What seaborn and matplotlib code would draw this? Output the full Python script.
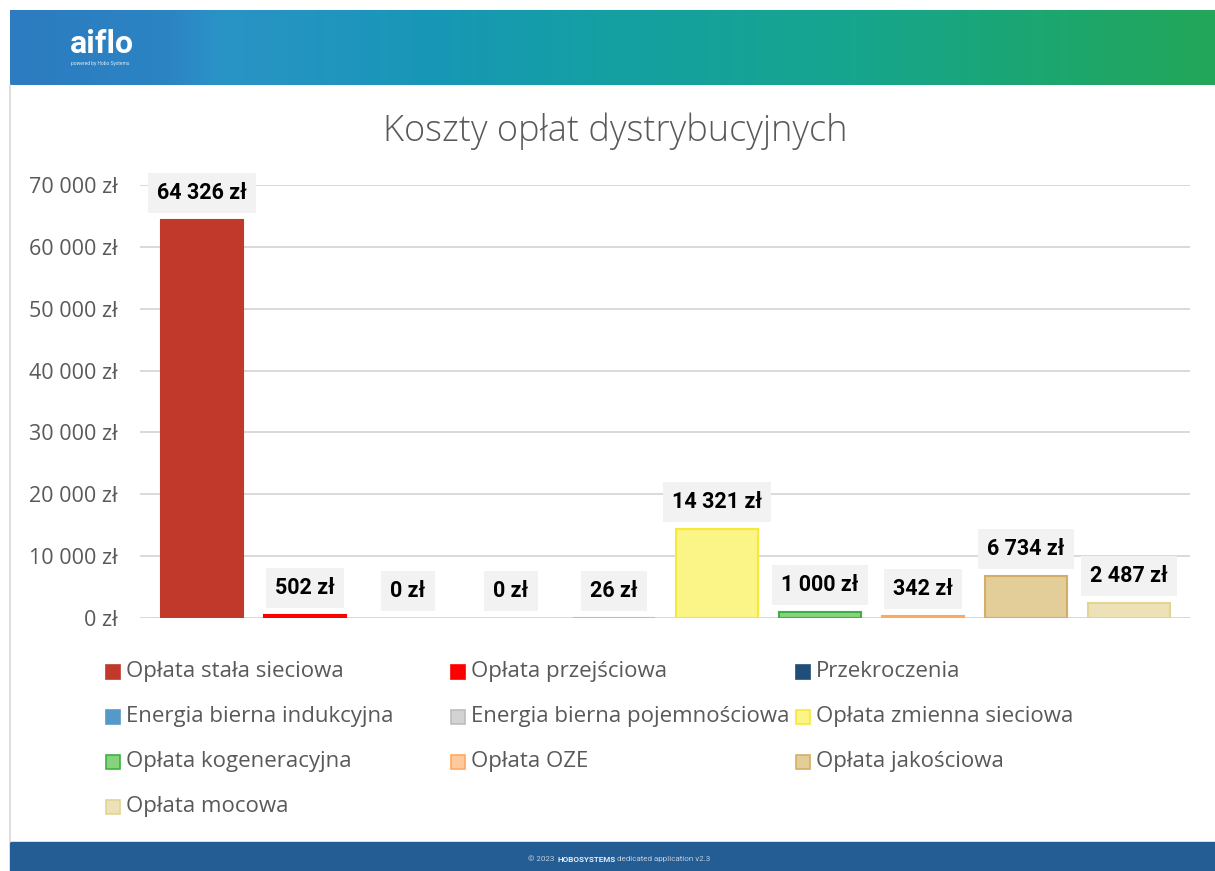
import numpy as np
import pandas as pd
import matplotlib
matplotlib.use('Agg')
import matplotlib.pyplot as plt
from matplotlib.colors import LinearSegmentedColormap
from matplotlib.patches import Rectangle
import seaborn as sns

sns.set_style('white')
plt.rcParams['font.family'] = ['Roboto', 'DejaVu Sans']

categories = ['Opłata stała sieciowa', 'Opłata przejściowa', 'Przekroczenia',
              'Energia bierna indukcyjna', 'Energia bierna pojemnościowa',
              'Opłata zmienna sieciowa', 'Opłata kogeneracyjna', 'Opłata OZE',
              'Opłata jakościowa', 'Opłata mocowa']
values = [64326, 502, 0, 0, 26, 14321, 1000, 342, 6734, 2487]
fill_colors = ['#c0392b', '#ff0000', '#1f4e79', '#5499c7', '#d3d3d3',
               '#fbf486', '#85d47c', '#ffca9b', '#e3cd98', '#ede2b7']
edge_colors = ['#c0392b', '#ff0000', '#1f4e79', '#5499c7', '#bdbdbd',
               '#f5e93a', '#3cb043', '#ffa860', '#d4ae66', '#e5d393']
yticks = [0, 10000, 20000, 30000, 40000, 50000, 60000, 70000]


def fmt_zl(v):
    return '{:,}'.format(int(v)).replace(',', ' ') + ' zł'


df = pd.DataFrame({'cat': categories, 'val': values})

W, H = 1215, 871
fig = plt.figure(figsize=(W / 100, H / 100), dpi=100)

# header band
hdr = fig.add_axes([10 / W, 1 - 85 / H, 1 - 10 / W, 75 / H])
hdr_cmap = LinearSegmentedColormap.from_list('hdr', [
    (0.0, '#2b7cc0'), (0.13, '#2c84c3'), (0.17, '#2a93c7'), (0.35, '#1897b6'),
    (0.5, '#14a0a2'), (0.7, '#16a58e'), (0.85, '#1ca672'), (1.0, '#23a65a')])
hdr.imshow(np.linspace(0, 1, 400)[None, :], aspect='auto', cmap=hdr_cmap,
           extent=[0, 1, 0, 1])
hdr.set_axis_off()
fig.text(70 / W, 1 - 44 / H, 'aiflo', color='white', fontsize=23,
         fontweight='bold', ha='left', va='center')
fig.text(71 / W, 1 - 63 / H, 'powered by Hobo Systems', color='#dcebf5',
         fontsize=3.5, ha='left', va='center')

# footer band
fig.patches.append(Rectangle((10 / W, 0), 1 - 10 / W, 29 / H,
                             transform=fig.transFigure, color='#235d94', zorder=0))
fig.text(528 / W, 12 / H, '© 2023', color='#c3d0e0', fontsize=5.8, va='center')
fig.text(557 / W, 12 / H, 'HOBOSYSTEMS', color='#e8eef5', fontsize=5.8,
         fontweight='bold', va='center')
fig.text(617 / W, 12 / H, 'dedicated application v2.3', color='#c3d0e0',
         fontsize=5.8, va='center')

# left card border
fig.lines.append(plt.Line2D([10.5 / W, 10.5 / W], [29 / H, 1 - 85 / H],
                            transform=fig.transFigure, color='#d9d9d9', lw=1.2))

# main chart
ax = fig.add_axes([140 / W, 1 - 618 / H, 1050 / W, 433 / H])
sns.barplot(data=df, x='cat', y='val', hue='cat', palette=dict(zip(categories, fill_colors)),
            width=0.8, saturation=1, legend=False, ax=ax, zorder=3)
for bar, ec, v in zip(ax.patches, edge_colors, values):
    bar.set_edgecolor(ec)
    bar.set_linewidth(1.5 if v > 0 else 0)

ax.set_xlim(-0.6, 9.59)
ax.set_ylim(0, 70000)
ax.set_yticks(yticks)
ax.set_yticklabels([fmt_zl(t) for t in yticks], fontsize=15.5, color='#595959',
                   family=['Open Sans', 'DejaVu Sans'])
ax.set_xticks([])
ax.set_xlabel('')
ax.set_ylabel('')
ax.tick_params(axis='y', length=0, pad=16)
ax.grid(axis='y', color='#d9d9d9', lw=1.4, zorder=0)
sns.despine(ax=ax, left=True, bottom=True)
ax.axhline(0, color='#d9d9d9', lw=2, zorder=2)

for i, v in enumerate(values):
    ax.annotate(fmt_zl(v), xy=(i, v), xytext=(0, 27), textcoords='offset pixels',
                ha='center', va='center', fontsize=15.5, fontweight='bold', color='black',
                annotation_clip=False, zorder=5,
                bbox=dict(boxstyle='square,pad=0.42', fc='#f2f2f2', ec='none'))

fig.text(615 / W, 1 - 131 / H, 'Koszty opłat dystrybucyjnych', fontsize=26,
         color='#595959', ha='center', va='center', fontweight='light',
         family=['Open Sans', 'DejaVu Sans'])

# legend laid out as in the reference, row by row in three columns
col_x = [106, 451, 796]
row_y = [672, 717, 762, 807]
for k, (name, fc, ec) in enumerate(zip(categories, fill_colors, edge_colors)):
    r, c = divmod(k, 3)
    x0, y0 = col_x[c], row_y[r]
    fig.patches.append(Rectangle((x0 / W, (H - y0 - 7) / H), 14 / W, 14 / H,
                                 transform=fig.transFigure, fc=fc, ec=ec, lw=1.2))
    fig.text((x0 + 20) / W, 1 - (y0 - 1) / H, name, fontsize=16, color='#595959',
             ha='left', va='center', family=['Open Sans', 'DejaVu Sans'])

fig.savefig('out.png', dpi=100, facecolor='white')
